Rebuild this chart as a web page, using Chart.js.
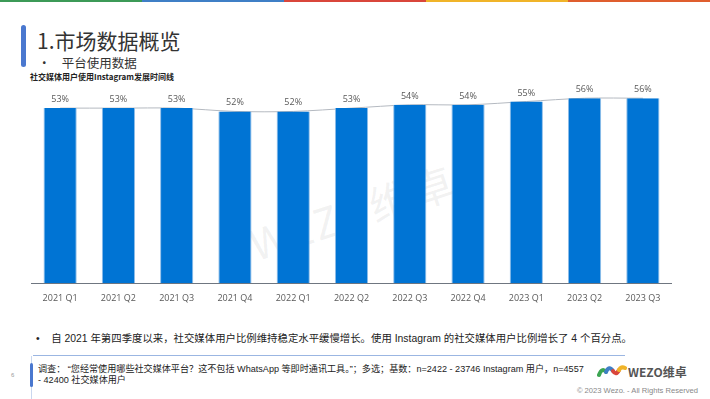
<!DOCTYPE html>
<html>
<head>
<meta charset="utf-8">
<script src="https://cdn.jsdelivr.net/npm/chart.js@4/dist/chart.umd.min.js"></script>
<style>
  html, body { margin: 0; padding: 0; background: #fff; }
  body { width: 710px; height: 399px; position: relative; overflow: hidden;
         font-family: "Liberation Sans", "Noto Sans CJK SC", sans-serif; color: #333; }
  .abs { position: absolute; white-space: nowrap; }
  #stripe { position: absolute; left: 0; top: 0; width: 710px; height: 2px; display: flex; }
  #stripe div { flex: 1; }
  #wrap { position: absolute; left: 31px; top: 70px; width: 641px; height: 236px; z-index: 2; }
</style>
</head>
<body>
<div id="stripe">
  <div style="background:#3c9a57"></div>
  <div style="background:#3f7fc6"></div>
  <div style="background:#d9463b"></div>
  <div style="background:#f0b429"></div>
  <div style="background:#df5e2e"></div>
</div>

<div class="abs" style="left:21px;top:25px;width:5px;height:42px;border-radius:3px;background:#4a78cf"></div>
<div class="abs" style="left:37px;top:25px;font-size:21px;color:#333;font-family:'Noto Sans CJK SC',sans-serif;">1.市场数据概览</div>
<div class="abs" style="left:38px;top:53px;font-size:12.5px;color:#333;font-family:'Noto Sans CJK SC',sans-serif;">•&nbsp;&nbsp;&nbsp;&nbsp;平台使用数据</div>
<div class="abs" style="left:30px;top:71px;font-size:8px;font-weight:bold;color:#222;font-family:'Noto Sans CJK SC',sans-serif;">社交媒体用户使用Instagram发展时间线</div>

<div class="abs" style="left:260px;top:212px;font-size:42px;color:rgba(120,120,120,0.10);transform:rotate(-18deg);transform-origin:left bottom;font-family:'Noto Sans CJK SC',sans-serif;letter-spacing:2px;z-index:1;">WEZO维卓</div>

<div id="wrap"><canvas id="myChart"></canvas></div>

<div class="abs" style="left:36px;top:330px;font-size:10.4px;color:#222;">•&nbsp;&nbsp;&nbsp;&nbsp;自 2021 年第四季度以来，社交媒体用户比例维持稳定水平缓慢增长。使用 Instagram 的社交媒体用户比例增长了 4 个百分点。</div>

<div class="abs" style="left:33px;top:355px;width:592px;height:1px;background:#9bb6e2"></div>
<div class="abs" style="left:31px;top:356px;width:1px;height:43px;background:#c9d7ef"></div>
<div class="abs" style="left:30px;top:363px;width:3px;height:24px;border-radius:2px;background:#4a78cf"></div>
<div class="abs" style="left:11px;top:372px;font-size:6px;color:#999;">6</div>
<div class="abs" style="left:38px;top:364px;font-size:9.1px;color:#222;line-height:11px;">调查：&nbsp;“您经常使用哪些社交媒体平台？这不包括 WhatsApp 等即时通讯工具。”；多选；基数：n=2422 - 23746 Instagram 用户，n=4557<br>- 42400 社交媒体用户</div>

<svg class="abs" style="left:597px;top:363px" width="30" height="16" viewBox="0 0 30 16">
  <path d="M2 12 Q5 4 9 9" stroke="#3ca552" stroke-width="4" fill="none" stroke-linecap="round"/>
  <path d="M9 9 Q12 2 16 8" stroke="#3f7fc6" stroke-width="4" fill="none" stroke-linecap="round"/>
  <path d="M16 8 Q19 13 22 7" stroke="#d9463b" stroke-width="4" fill="none" stroke-linecap="round"/>
  <path d="M22 7 Q24 3 28 5" stroke="#f0b429" stroke-width="4" fill="none" stroke-linecap="round"/>
</svg>
<div class="abs" style="left:628px;top:363px;font-size:12px;font-weight:bold;color:#555;font-family:'Noto Sans CJK SC',sans-serif;">WEZO维卓</div>
<div class="abs" style="right:12px;top:386px;font-size:7.6px;color:#888;">© 2023 Wezo. - All Rights Reserved</div>

<script>
const categories = ['2021 Q1', '2021 Q2', '2021 Q3', '2021 Q4', '2022 Q1', '2022 Q2', '2022 Q3', '2022 Q4', '2023 Q1', '2023 Q2', '2023 Q3'];
const shareValues = [53, 53, 53, 52, 52, 53, 54, 54, 55, 56, 56];
const valueLabels = ['53%', '53%', '53%', '52%', '52%', '53%', '54%', '54%', '55%', '56%', '56%'];

// value labels above bars
const topLabels = {
  id: 'topLabels',
  afterDatasetsDraw(chart) {
    const ctx = chart.ctx;
    const meta = chart.getDatasetMeta(0);
    ctx.save();
    ctx.font = '9px "Open Sans", sans-serif';
    ctx.fillStyle = '#595959';
    ctx.textAlign = 'center';
    ctx.textBaseline = 'bottom';
    meta.data.forEach(function (bar, i) {
      ctx.fillText(valueLabels[i], bar.x, bar.y - 4);
    });
    ctx.restore();
  }
};

new Chart(document.getElementById('myChart'), {
  data: {
    labels: categories,
    datasets: [{
      type: 'bar',
      data: shareValues,
      backgroundColor: '#0074d4',
      borderColor: '#8fbde8',
      borderWidth: { left: 1, right: 1, top: 0, bottom: 0 },
      barPercentage: 0.57,
      categoryPercentage: 1,
      order: 1
    }, {
      type: 'line',
      data: shareValues,
      borderColor: '#b4b9c0',
      borderWidth: 1,
      pointRadius: 0,
      tension: 0.3,
      order: 2
    }]
  },
  options: {
    responsive: true,
    maintainAspectRatio: false,
    animation: false,
    layout: { padding: { top: 15, bottom: 0, left: 0, right: 0 } },
    plugins: { legend: { display: false }, tooltip: { enabled: false } },
    scales: {
      x: {
        grid: { display: false },
        border: { display: true, color: '#6f7680', width: 1 },
        ticks: { color: '#595959', font: { family: 'Open Sans', size: 9 }, padding: 2, maxRotation: 0 }
      },
      y: { display: false, min: 0, max: 60 }
    }
  },
  plugins: [topLabels]
});
</script>
</body>
</html>
